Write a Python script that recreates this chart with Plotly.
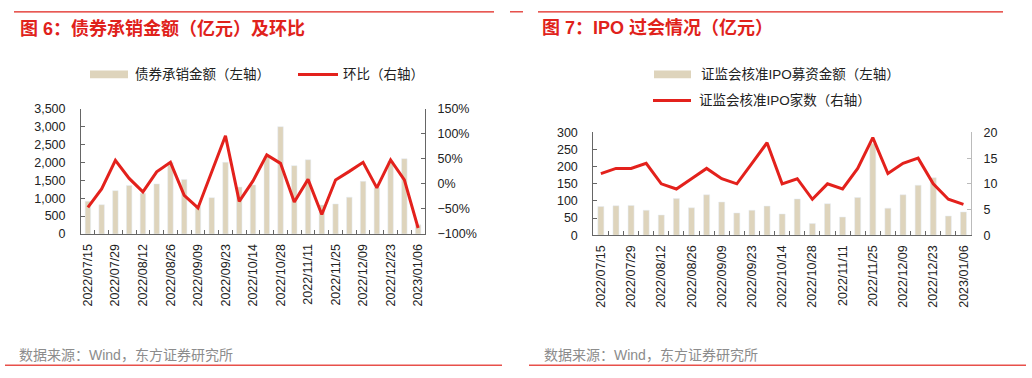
import plotly.graph_objects as go

# ---------------- data ----------------
dates = ["2022/07/15", "2022/07/22", "2022/07/29", "2022/08/05", "2022/08/12",
         "2022/08/19", "2022/08/26", "2022/09/02", "2022/09/09", "2022/09/16",
         "2022/09/23", "2022/09/30", "2022/10/14", "2022/10/21", "2022/10/28",
         "2022/11/04", "2022/11/11", "2022/11/18", "2022/11/25", "2022/12/02",
         "2022/12/09", "2022/12/16", "2022/12/23", "2022/12/30", "2023/01/06"]
tick_labels = [d if i % 2 == 0 else "" for i, d in enumerate(dates)]

bond_amount = [915, 817, 1212, 1355, 1140, 1400, 1995, 1526, 780, 1015,
               2005, 1310, 1370, 2170, 3000, 1910, 2075, 810, 840, 1030,
               1472, 1290, 2030, 2105, 255]
bond_qoq = [-0.47, -0.10, 0.47, 0.11, -0.16, 0.24, 0.43, -0.23, -0.48, 0.24,
            0.96, -0.35, 0.06, 0.58, 0.41, -0.36, 0.09, -0.61, 0.08, 0.25,
            0.43, -0.08, 0.48, 0.08, -0.88]

ipo_amount = [84, 86, 87, 73, 59, 107, 80, 118, 97, 65,
              73, 85, 62, 106, 34, 92, 53, 110, 268, 79,
              118, 146, 168, 56, 68]
ipo_count = [12, 13, 13, 14, 10, 9, 11, 13, 11, 10,
             14, 18, 10, 11, 7, 10, 9, 13, 19, 12,
             14, 15, 10, 7, 6]

title_left = "图 6：债券承销金额（亿元）及环比"
title_right = "图 7：IPO 过会情况（亿元）"
legend_left = ["债券承销金额（左轴）", "环比（右轴）"]
legend_right = ["证监会核准IPO募资金额（左轴）", "证监会核准IPO家数（右轴）"]
source_text = "数据来源：Wind，东方证券研究所"

# ---------------- style ----------------
W, H = 1032, 378
FONT = "Liberation Sans, Arial, Noto Sans CJK SC, sans-serif"
BAR_C = "#DED4BC"
LINE_C = "#E3211C"
RED = "#E0221B"
AX = "#666666"
TICK_FONT = dict(family=FONT, size=12.5, color="#222222")

def px(x):
    return x / W

def py(y):
    return 1 - y / H

fig = go.Figure()

fig.add_trace(go.Bar(x=dates, y=bond_amount, marker_color=BAR_C, xaxis="x", yaxis="y",
                     name=legend_left[0], showlegend=False))
fig.add_trace(go.Scatter(x=dates, y=bond_qoq, mode="lines", line=dict(color=LINE_C, width=3),
                         xaxis="x", yaxis="y2", name=legend_left[1], showlegend=False))
fig.add_trace(go.Bar(x=dates, y=ipo_amount, marker_color=BAR_C, xaxis="x2", yaxis="y3",
                     name=legend_right[0], showlegend=False))
fig.add_trace(go.Scatter(x=dates, y=ipo_count, mode="lines", line=dict(color=LINE_C, width=3),
                         xaxis="x2", yaxis="y4", name=legend_right[1], showlegend=False))

xcommon = dict(type="category", categoryorder="array", categoryarray=dates,
               tickmode="array", tickvals=dates, ticktext=tick_labels,
               tickangle=-90, tickfont=TICK_FONT, showline=True, linecolor=AX, linewidth=1,
               ticks="inside", ticklen=4, tickcolor=AX, tickson="boundaries",
               showgrid=False, zeroline=False, fixedrange=True, ticklabelstandoff=4)
ycommon = dict(showgrid=False, zeroline=False, showline=True, linewidth=1,
               ticks="inside", ticklen=4, tickfont=TICK_FONT, fixedrange=True)

L_DOM_X = [px(81), px(425)]
L_DOM_Y = [py(235.7), py(105.7)]
R_DOM_X = [px(593.3), px(971)]
R_DOM_Y = [py(237), py(130.3)]

fig.update_layout(
    width=W, height=H, margin=dict(l=0, r=0, t=0, b=0),
    paper_bgcolor="white", plot_bgcolor="white",
    bargap=0.6, showlegend=False,
    font=dict(family=FONT),
    xaxis=dict(domain=L_DOM_X, anchor="y", **xcommon),
    yaxis=dict(domain=L_DOM_Y, anchor="x", range=[0, 3500], dtick=500, tickformat=",",
               linecolor=AX, tickcolor=AX, ticklabelstandoff=12, **ycommon),
    yaxis2=dict(overlaying="y", side="right", anchor="x", range=[-1, 1.5], dtick=0.5,
                tickformat=".0%", linecolor=AX, tickcolor=AX, ticklabelstandoff=9, **ycommon),
    xaxis2=dict(domain=R_DOM_X, anchor="y3", **xcommon),
    yaxis3=dict(domain=R_DOM_Y, anchor="x2", range=[0, 300], dtick=50,
                linecolor=AX, tickcolor=AX, ticklabelstandoff=12, **ycommon),
    yaxis4=dict(overlaying="y3", side="right", anchor="x2", range=[0, 20], dtick=5,
                linecolor="#BBBBBB", tickcolor="#BBBBBB", ticklabelstandoff=9, **ycommon),
)

shapes = []
ann = []

# rules
for x0, x1, y, c, w in [(14, 494, 5, RED, 1.2), (538, 1003, 5, RED, 1.2), (510, 523, 5, RED, 1.2),
                        (5, 502, 372, "#E8504A", 1.5), (529, 1026, 372, "#E8504A", 1.5)]:
    shapes.append(dict(type="line", xref="paper", yref="paper", x0=px(x0), x1=px(x1),
                       y0=py(y), y1=py(y), line=dict(color=c, width=w)))

# titles
for x, t in [(18, title_left), (540, title_right)]:
    ann.append(dict(text="<b>" + t + "</b>", x=px(x), y=py(22), xref="paper", yref="paper",
                    xanchor="left", yanchor="middle", showarrow=False,
                    font=dict(family=FONT, size=18, color=RED)))

# sources
for x in [17, 542]:
    ann.append(dict(text=source_text, x=px(x), y=py(361), xref="paper", yref="paper",
                    xanchor="left", yanchor="middle", showarrow=False,
                    font=dict(family=FONT, size=14, color="#8C8C8C")))

# legends (manual swatches)
LEG_FONT = dict(family=FONT, size=13.5, color="#222222")
legend_items = [
    ("bar", 90, 128, 70, 133, legend_left[0]),
    ("line", 298, 338, 70, 341, legend_left[1]),
    ("bar", 654, 691, 70, 699, legend_right[0]),
    ("line", 653, 691, 97, 697, legend_right[1]),
]
for kind, x0, x1, y, tx, label in legend_items:
    if kind == "bar":
        shapes.append(dict(type="rect", xref="paper", yref="paper", x0=px(x0), x1=px(x1),
                           y0=py(y + 4), y1=py(y - 4), fillcolor=BAR_C, line=dict(width=0)))
    else:
        shapes.append(dict(type="line", xref="paper", yref="paper", x0=px(x0), x1=px(x1),
                           y0=py(y), y1=py(y), line=dict(color=LINE_C, width=3)))
    ann.append(dict(text=label, x=px(tx), y=py(y), xref="paper", yref="paper",
                    xanchor="left", yanchor="middle", showarrow=False, font=LEG_FONT))

fig.update_layout(shapes=shapes, annotations=ann)
fig.write_html("out.html", config={"displayModeBar": False},
               post_script="document.body.style.margin='0';document.body.style.padding='0';")
